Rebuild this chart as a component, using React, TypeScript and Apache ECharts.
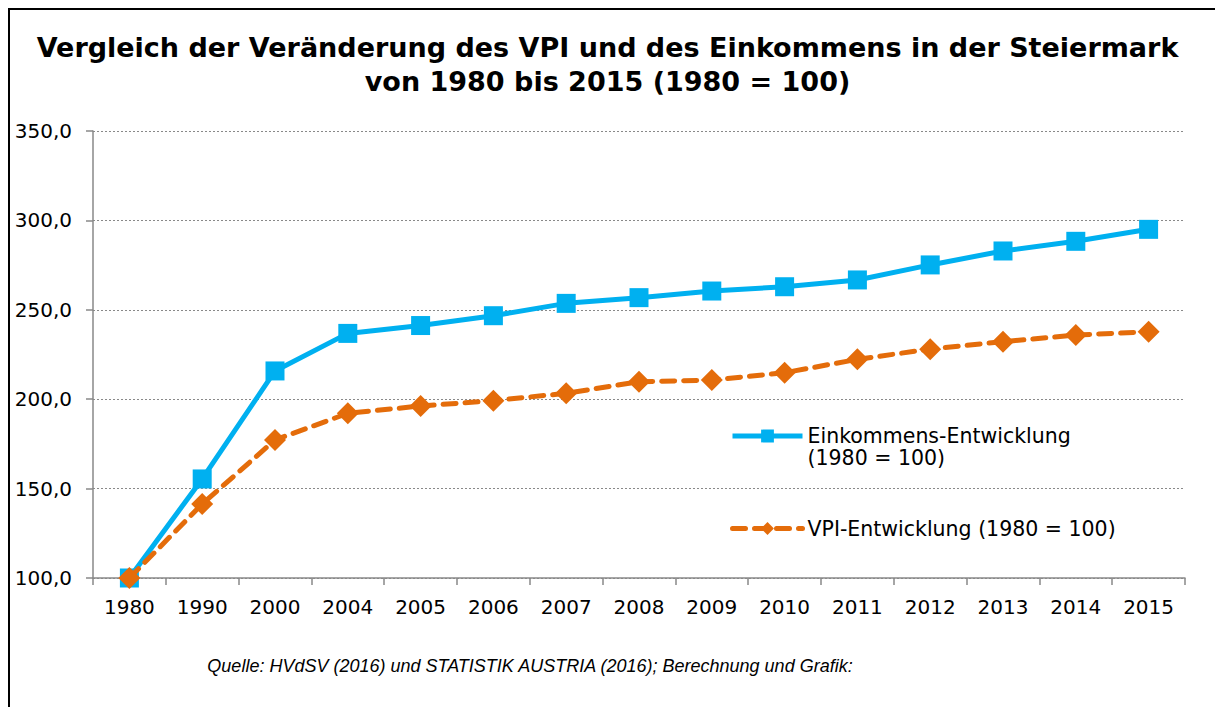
import React, { useEffect, useRef } from "react";
import * as echarts from "echarts";

const categories = ["1980", "1990", "2000", "2004", "2005", "2006", "2007", "2008", "2009", "2010", "2011", "2012", "2013", "2014", "2015"];
const incomeValues = [100, 155.4, 215.8, 236.8, 241.2, 246.7, 253.6, 256.8, 260.5, 262.9, 266.7, 275.1, 282.9, 288.3, 295.0];
const vpiValues = [100, 141.4, 177.2, 192.1, 196.2, 199.2, 203.3, 209.8, 210.7, 214.8, 222.3, 228.0, 232.2, 235.9, 237.7];
const incomeName = "Einkommens-Entwicklung\n(1980 = 100)";
const vpiName = "VPI-Entwicklung (1980 = 100)";
const titleText = "Vergleich der Veränderung des VPI und des Einkommens in der Steiermark\nvon 1980 bis 2015 (1980 = 100)";
const sourceText = "Quelle: HVdSV (2016) und STATISTIK AUSTRIA (2016); Berechnung und Grafik:";

const WIDE = "'DejaVu Sans', sans-serif";
const NARROW = "'Liberation Sans', Arial, sans-serif";

export default function App() {
  const ref = useRef<HTMLDivElement>(null);
  useEffect(() => {
    document.body.style.margin = "0";
    const chart = echarts.init(ref.current!, null, { renderer: "svg" });
    chart.setOption({
      animation: false,
      backgroundColor: "#ffffff",
      title: {
        text: titleText,
        left: "center",
        top: 25,
        textStyle: { fontFamily: WIDE, fontSize: 27, fontWeight: "bold", color: "#000", lineHeight: 34 },
      },
      grid: { left: 93, right: 30, top: 131, bottom: 129 },
      legend: [
        {
          data: [incomeName],
          left: 730,
          top: 403,
          padding: 0,
          orient: "vertical",
          itemWidth: 70,
          itemHeight: 16,
          formatter: (name: string) => "\n" + name,
          lineStyle: { width: 5 },
          textStyle: { fontFamily: WIDE, fontSize: 20.5, color: "#000", lineHeight: 22 },
        },
        {
          data: [vpiName],
          left: 730,
          top: 518,
          padding: 0,
          orient: "vertical",
          itemWidth: 70,
          itemHeight: 16,
          lineStyle: { width: 5 },
          textStyle: { fontFamily: WIDE, fontSize: 20.5, color: "#000" },
        },
      ],
      xAxis: {
        type: "category",
        data: categories,
        boundaryGap: true,
        axisLine: { lineStyle: { color: "#898989", width: 1.5 } },
        axisTick: { show: true, length: 7, lineStyle: { color: "#898989", width: 1.5 } },
        axisLabel: { fontFamily: WIDE, fontSize: 20, color: "#000", margin: 19 },
      },
      yAxis: {
        type: "value",
        min: 100,
        max: 350,
        interval: 50,
        axisLine: { show: true, lineStyle: { color: "#898989", width: 1.5 } },
        axisTick: { show: true, length: 7, lineStyle: { color: "#898989", width: 1.5 } },
        axisLabel: {
          fontFamily: WIDE,
          fontSize: 20,
          color: "#000",
          margin: 21,
          formatter: (v: number) => v.toFixed(1).replace(".", ","),
        },
        splitLine: { show: true, lineStyle: { color: "#898989", type: [2, 2], width: 1.2 } },
      },
      series: [
        {
          name: incomeName,
          type: "line",
          data: incomeValues,
          symbol: "rect",
          symbolSize: 19,
          z: 2,
          lineStyle: { color: "#00B0F0", width: 5 },
          itemStyle: { color: "#00B0F0" },
        },
        {
          name: vpiName,
          type: "line",
          data: vpiValues,
          symbol: "diamond",
          symbolSize: 22,
          z: 3,
          lineStyle: { color: "#E46C0A", width: 5, type: [13, 9], cap: "round" },
          itemStyle: { color: "#E46C0A" },
        },
      ],
      graphic: [
        {
          type: "rect",
          shape: { x: 9, y: 9, width: 1300, height: 800 },
          style: { fill: "none", stroke: "#000", lineWidth: 2 },
          silent: true,
        },
        {
          type: "text",
          x: 530,
          y: 666,
          style: {
            text: sourceText,
            fontFamily: NARROW,
            fontSize: 18,
            fontStyle: "italic",
            fill: "#000",
            align: "center",
            verticalAlign: "middle",
          },
        },
      ],
    });
    return () => chart.dispose();
  }, []);
  return <div ref={ref} style={{ width: 1215, height: 707 }} />;
}
